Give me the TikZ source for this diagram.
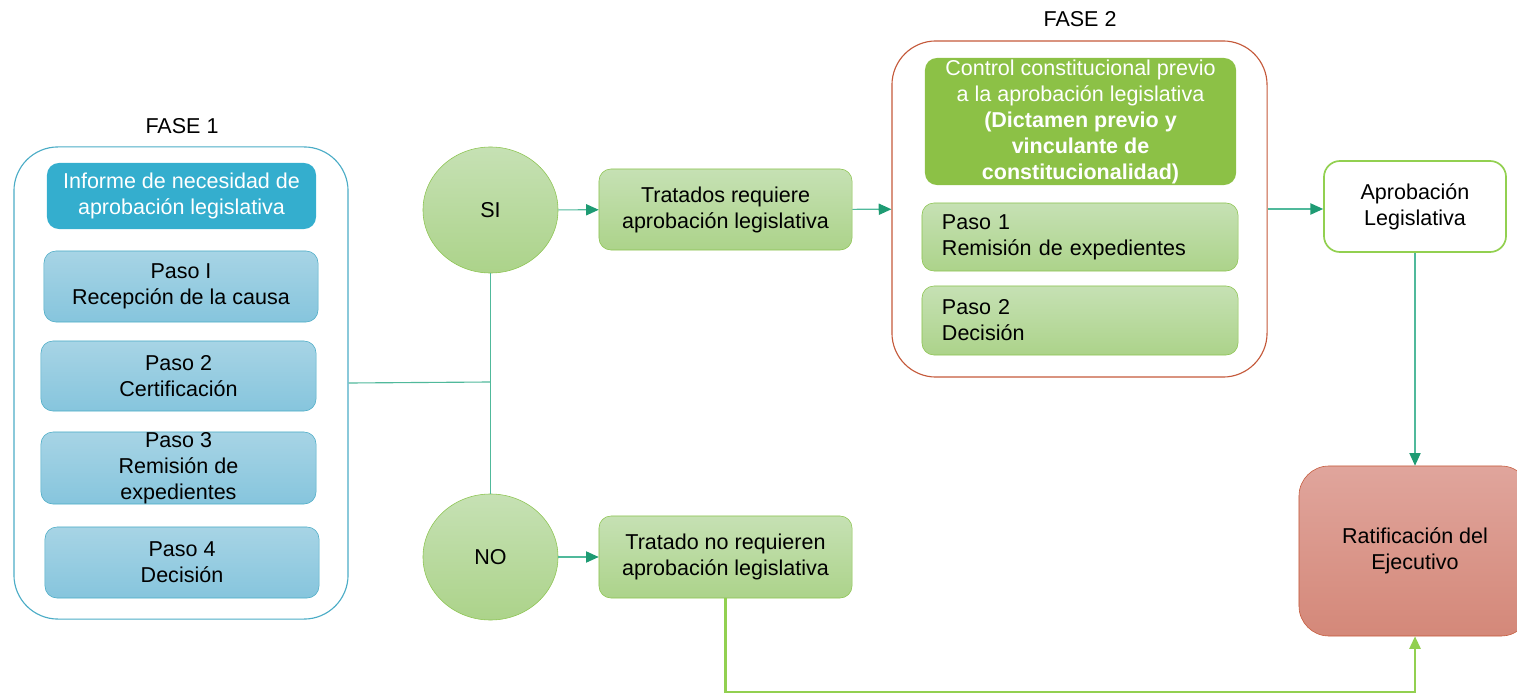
\documentclass[tikz,border=0pt]{standalone}
\usepackage{fontspec}
\setmainfont{Liberation Sans}
\usepackage{xcolor}
\usetikzlibrary{shapes.geometric,arrows.meta,positioning,calc}

\definecolor{azulBorde}{RGB}{75,172,198}
\definecolor{azulFuerte}{RGB}{52,174,206}
\definecolor{azulArriba}{RGB}{167,212,229}
\definecolor{azulAbajo}{RGB}{134,197,221}
\definecolor{verdeArriba}{RGB}{198,225,180}
\definecolor{verdeAbajo}{RGB}{172,211,138}
\definecolor{verdeBorde}{RGB}{140,196,80}
\definecolor{verdeFuerte}{RGB}{140,193,70}
\definecolor{verdeClaro}{RGB}{146,208,80}
\definecolor{rojoArriba}{RGB}{224,165,156}
\definecolor{rojoAbajo}{RGB}{212,136,121}
\definecolor{rojoBorde}{RGB}{196,89,58}
\definecolor{tealLinea}{RGB}{80,185,155}
\definecolor{tealFlecha}{RGB}{30,155,115}

\begin{document}
\begin{tikzpicture}[x=0.025cm, y=-0.025cm,
    font=\fontsize{15.3}{18.5}\selectfont,
    fase/.style={rectangle, draw, line width=0.8pt, rounded corners=1.1cm, inner sep=0pt},
    titulo/.style={rectangle, rounded corners=0.3cm, align=center, text=white, inner sep=0pt},
    paso/.style={rectangle, draw=azulBorde, rounded corners=0.3cm, align=center, inner sep=0pt, top color=azulArriba, bottom color=azulAbajo},
    verde/.style={rectangle, draw=verdeBorde, rounded corners=0.3cm, align=center, inner sep=0pt, top color=verdeArriba, bottom color=verdeAbajo},
    pasoizq/.style={rectangle, draw=verdeBorde, rounded corners=0.3cm, align=left, inner ysep=0pt, inner xsep=0.5cm, text width=6.9cm, top color=verdeArriba, bottom color=verdeAbajo},
    decision/.style={ellipse, draw=verdeBorde, minimum width=3.375cm, minimum height=3.15cm, inner sep=0pt, top color=verdeArriba, bottom color=verdeAbajo},
    conn/.style={draw=tealLinea, line width=0.8pt},
    flecha/.style={conn, -{Triangle[length=9pt, width=8pt, fill=tealFlecha, color=tealFlecha]}}]

    \useasboundingbox (0,0) rectangle (1517,695);

    % Fase 1
    \node at (182,126) (lbl1) {FASE 1};
    \node[fase, draw=azulBorde, minimum width=8.35cm, minimum height=11.8cm] at (181,383) (fase1) {};
    \node[titulo, fill=azulFuerte, minimum width=6.725cm, minimum height=1.65cm] at (181.5,196) (informe) {Informe de necesidad de\\aprobación legislativa};
    \node[paso, minimum width=6.85cm, minimum height=1.775cm] at (181,286.5) (p1) {Paso I\\Recepción de la causa};
    \node[paso, minimum width=6.875cm, minimum height=1.75cm] at (178.5,376) (p2) {Paso 2\\Certificación};
    \node[paso, minimum width=6.875cm, minimum height=1.8cm] at (178.5,468) (p3) {Paso 3\\Remisión de\\expedientes};
    \node[paso, minimum width=6.85cm, minimum height=1.775cm] at (182,562.5) (p4) {Paso 4\\Decisión};

    % Decisiones
    \node[decision] at (490.5,210) (si) {SI};
    \node[decision] at (490.5,557) (no) {NO};
    \node[verde, minimum width=6.325cm, minimum height=2.025cm] at (725.5,209.5) (req) {Tratados requiere\\aprobación legislativa};
    \node[verde, minimum width=6.325cm, minimum height=2.05cm] at (725.5,557) (noreq) {Tratado no requieren\\aprobación legislativa};

    % Fase 2
    \node at (1080,19) (lbl2) {FASE 2};
    \node[fase, draw=rojoBorde, minimum width=9.375cm, minimum height=8.4cm] at (1079.5,209) (fase2) {};
    \node[titulo, fill=verdeFuerte, minimum width=7.775cm, minimum height=3.175cm] at (1080.5,121.5) (control) {Control constitucional previo\\a la aprobación legislativa\\\textbf{(Dictamen previo y}\\\textbf{vinculante de}\\\textbf{constitucionalidad)}};
    \node[pasoizq, minimum height=1.7cm] at (1080,237) (f2p1) {Paso 1\\Remisión de expedientes};
    \node[pasoizq, minimum height=1.725cm] at (1080,320.5) (f2p2) {Paso 2\\Decisión};

    % Resultado
    \node[rectangle, draw=verdeClaro, line width=1.2pt, fill=white, rounded corners=0.4cm, align=center, minimum width=4.55cm, minimum height=2.275cm] at (1415,206.5) (aprob) {Aprobación\\Legislativa};
    \node[rectangle, draw=rojoBorde, rounded corners=0.75cm, align=center, minimum width=5.8cm, minimum height=4.25cm, top color=rojoArriba, bottom color=rojoAbajo] at (1415,551) (ratif) {Ratificación del\\Ejecutivo};

    % Conexiones
    \coordinate (cruce) at (490.5,382);
    \coordinate (abajo) at (725.5,692);
    \draw[conn] (fase1.east) -- (cruce);
    \draw[conn] (si.south) -- (no.north);
    \draw[flecha] (si) -- (req);
    \draw[flecha] (no) -- (noreq);
    \draw[flecha] (req) -- (fase2);
    \draw[flecha] (fase2.east) -- (fase2.east -| aprob.west);
    \draw[flecha] (aprob) -- (ratif);
    \draw[draw=verdeClaro, line width=1.5pt, -{Triangle[length=9pt, width=8pt]}] (noreq.south) -- (abajo) -| (ratif.south);

\end{tikzpicture}
\end{document}
